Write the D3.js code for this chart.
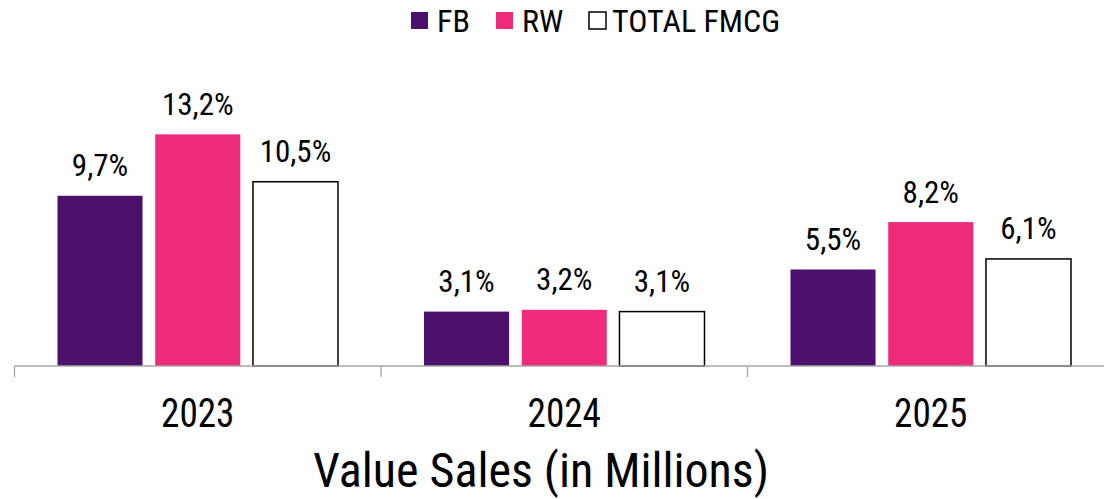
<!DOCTYPE html>
<html>
<head>
<meta charset="utf-8">
<script src="https://cdn.jsdelivr.net/npm/d3@7"></script>
<style>
body { margin: 0; background: #fff; }
text { font-family: "Roboto Condensed", "Liberation Sans Narrow", Roboto, sans-serif; font-stretch: condensed; fill: #000; }
</style>
</head>
<body>
<svg width="1104" height="499"></svg>
<script>
const years = ["2023", "2024", "2025"];
const seriesNames = ["FB", "RW", "TOTAL FMCG"];
const fb = [9.7, 3.1, 5.5];
const rw = [13.2, 3.2, 8.2];
const total = [10.5, 3.1, 6.1];
const fills = ["#4c116b", "#ee2a7b", "#ffffff"];

const values = [fb, rw, total];
const rows = [];
years.forEach(function (y, i) {
    values.forEach(function (s, j) {
        rows.push({ year: y, serie: seriesNames[j], value: s[i], idx: j });
    });
});

const svg = d3.select("svg");

// echelles
const x = d3.scaleBand().domain(years).range([14.5, 1114]).padding(0);
const xs = d3.scaleBand().domain(seriesNames).range([0, x.bandwidth()])
    .paddingInner(0.13).paddingOuter(0.44);
const y = d3.scaleLinear().domain([0, 14]).range([366, 120.3]);

// barres
svg.append("g").selectAll("rect")
    .data(rows)
    .enter()
    .append("rect")
    .attr("x", d => x(d.year) + xs(d.serie))
    .attr("y", d => y(d.value))
    .attr("width", xs.bandwidth())
    .attr("height", d => y(0) - y(d.value))
    .attr("fill", d => fills[d.idx])
    .attr("stroke", d => d.idx == 2 ? "#000" : "none")
    .attr("stroke-width", 1.5);

// etiquettes
svg.append("g").selectAll("text")
    .data(rows)
    .enter()
    .append("text")
    .attr("x", d => x(d.year) + xs(d.serie) + xs.bandwidth() / 2)
    .attr("y", d => y(d.value) - 19.5)
    .attr("text-anchor", "middle")
    .attr("font-size", 31)
    .text(d => d.value.toFixed(1).replace(".", ",") + "%");

// axe
const ax = svg.append("g").attr("transform", "translate(0,366)")
    .call(d3.axisBottom(x).tickSize(0).tickFormat(""));
ax.select(".domain").attr("stroke", "#a6a6a6").attr("stroke-width", 1.3).attr("d", "M14.5,0H1104");
ax.selectAll(".tick").remove();
svg.append("g").selectAll("line")
    .data(years)
    .enter()
    .append("line")
    .attr("x1", d => x(d)).attr("x2", d => x(d))
    .attr("y1", 366).attr("y2", 377)
    .attr("stroke", "#a6a6a6").attr("stroke-width", 1.3);

svg.append("g").selectAll("text")
    .data(years)
    .enter()
    .append("text")
    .attr("transform", d => "translate(" + (x(d) + x.bandwidth() / 2) + ",427) scale(0.93,1)")
    .attr("text-anchor", "middle")
    .attr("font-size", 40)
    .text(d => d);

svg.append("text")
    .attr("x", 541)
    .attr("y", 487)
    .attr("text-anchor", "middle")
    .attr("font-size", 48)
    .text("Value Sales (in Millions)");

// legende
const legX = [411, 496, 589];
const legT = [26, 26, 23];
const leg = svg.append("g").selectAll("g")
    .data(seriesNames)
    .enter()
    .append("g")
    .attr("transform", (d, i) => "translate(" + legX[i] + ",12)");
leg.append("rect")
    .attr("width", 17).attr("height", 17)
    .attr("fill", (d, i) => fills[i])
    .attr("stroke", (d, i) => i == 2 ? "#000" : "none")
    .attr("stroke-width", 1.5);
leg.append("text")
    .attr("x", (d, i) => legT[i])
    .attr("y", 19.7)
    .attr("font-size", 32)
    .text(d => d);
</script>
</body>
</html>
